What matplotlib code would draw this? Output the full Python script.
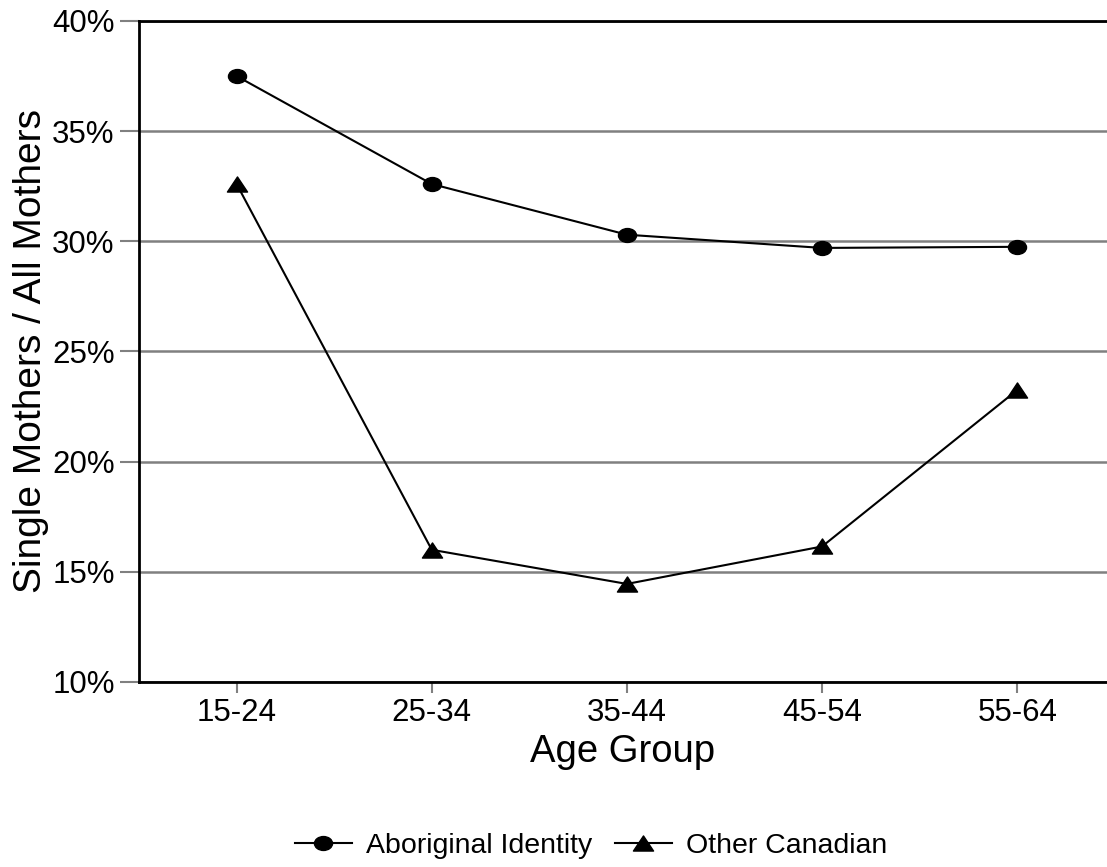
import numpy as np
import matplotlib.pyplot as plt
from matplotlib.path import Path
from matplotlib.ticker import PercentFormatter

plt.rcParams['font.family'] = ['Liberation Sans', 'DejaVu Sans']

age_groups = ["15-24", "25-34", "35-44", "45-54", "55-64"]
aboriginal = [37.5, 32.6, 30.3, 29.7, 29.75]
other_canadian = [32.6, 16.0, 14.45, 16.15, 23.25]

# flattened markers, like the original
circ = Path.unit_circle()
ellipse = Path(circ.vertices * np.array([1.0, 0.77]), circ.codes)
tri = Path([(0, 0.75), (-1, -0.75), (1, -0.75), (0, 0.75)],
           [Path.MOVETO, Path.LINETO, Path.LINETO, Path.CLOSEPOLY])

fig = plt.figure(figsize=(11.07, 8.67), dpi=100)
ax = fig.add_axes([0.1256, 0.2134, 0.8744, 0.7624])

x = np.arange(len(age_groups))
ax.plot(x, aboriginal, color="black", lw=1.5, marker=ellipse, ms=13, label="Aboriginal Identity", zorder=3)
ax.plot(x, other_canadian, color="black", lw=1.5, marker=tri, ms=14.5, label="Other Canadian", zorder=3)

ax.set_xlim(-0.5, 4.46)
ax.set_ylim(10, 40)
ax.set_yticks(np.arange(10, 41, 5))
ax.yaxis.set_major_formatter(PercentFormatter(decimals=0))
ax.set_xticks(x)
ax.set_xticklabels(age_groups)
ax.grid(axis="y", color="#808080", lw=1.8)
ax.set_axisbelow(True)

ax.spines["right"].set_visible(False)
for s in ["left", "top", "bottom"]:
    ax.spines[s].set_linewidth(2)
ax.tick_params(axis="both", colors="#808080", labelcolor="black", labelsize=22.5, width=1.5, length=8)
ax.tick_params(axis="y", length=14)

ax.set_xlabel("Age Group", fontsize=27.5, labelpad=4)
ax.set_ylabel("Single Mothers / All Mothers", fontsize=28, labelpad=2)

ax.legend(loc="upper center", bbox_to_anchor=(0.467, -0.19), ncol=2, frameon=False,
          fontsize=20.5, handlelength=2.0, handletextpad=0.5, columnspacing=0.8)

fig.savefig("out.png", dpi=100)
